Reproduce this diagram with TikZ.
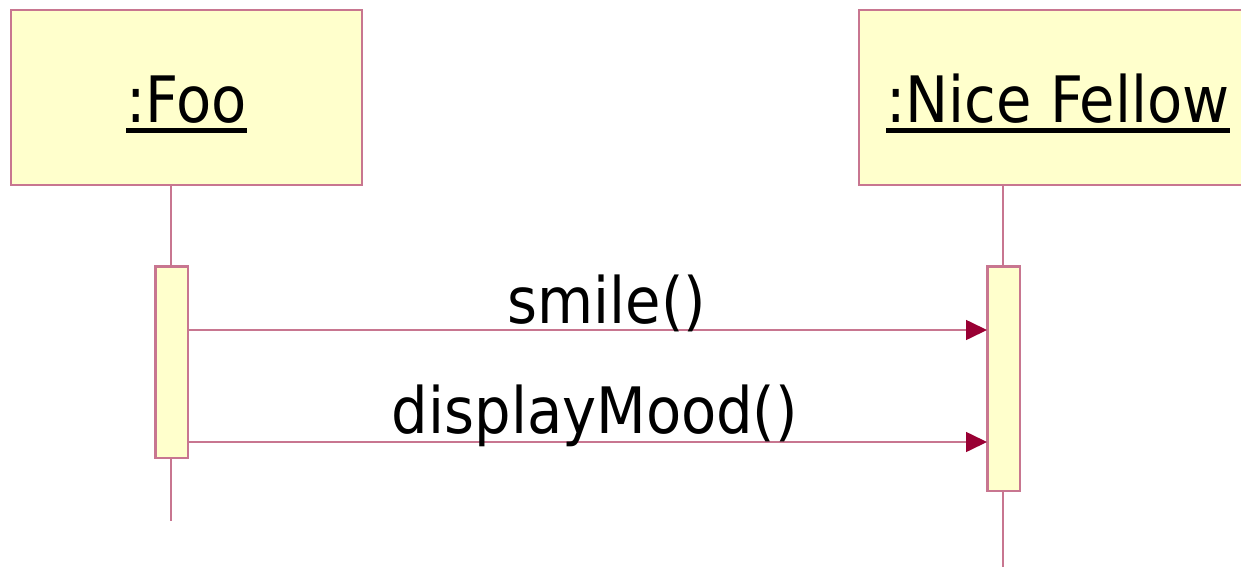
\documentclass[tikz,border=0pt]{standalone}
\usepackage{fontspec}
\setmainfont{DejaVu Sans Condensed}
\usetikzlibrary{arrows.meta}
\definecolor{umlline}{RGB}{200,118,144}
\definecolor{umlfill}{RGB}{255,255,204}
\definecolor{umlhead}{RGB}{153,0,51}
\newcommand{\ulabel}[1]{\setbox0\hbox{#1}\rlap{\rule[-10pt]{\wd0}{4.5pt}}\box0}
\begin{document}
\begin{tikzpicture}[x=1pt,y=-1pt,
  objbox/.style={draw=umlline,fill=umlfill,line width=1.6pt},
  actbox/.style={draw=umlline,fill=umlfill,line width=1.6pt,inner sep=0pt,anchor=north west,minimum width=32pt},
  lifeline/.style={draw=umlline,line width=1.6pt},
  msg/.style={draw=umlline,line width=1.6pt,-{Triangle[length=21pt,width=20pt,fill=umlhead,color=umlhead]}},
  objtext/.style={font=\fontsize{64}{64}\selectfont,inner sep=0pt,anchor=base},
  msgtext/.style={font=\fontsize{64}{64}\selectfont,inner sep=0pt,anchor=base}]
\useasboundingbox (0,0) rectangle (1241,567);
% object boxes
\path[objbox] (11,10) rectangle (362,185);
\path[objbox] (859,10) rectangle (1260,185);
\node[objtext] (foo) at (186.5,123) {\ulabel{:Foo}};
\node[objtext] (nice) at (1058,123) {\ulabel{:Nice Fellow}};
% lifeline anchors
\coordinate (footop) at (171,185);
\coordinate (foobot) at (171,521);
\coordinate (nicetop) at (1003,185);
\coordinate (nicebot) at (1003,567);
\draw[lifeline] (footop) -- (foobot);
\draw[lifeline] (nicetop) -- (nicebot);
% activations
\node[actbox,minimum height=191pt] (fooact) at (155,266) {};
\node[actbox,minimum height=224pt] (niceact) at (987,266) {};
\draw[draw=umlline,line width=1.6pt] (fooact.north west) rectangle (fooact.south east);
\draw[draw=umlline,line width=1.6pt] (niceact.north west) rectangle (niceact.south east);
% messages
\draw[msg] (fooact.east |- 0,330) -- (niceact.west |- 0,330);
\draw[msg] (fooact.east |- 0,442) -- (niceact.west |- 0,442);
\node[msgtext] (m1) at (607,323) {smile()};
\node[msgtext] (m2) at (595,433) {displayMood()};
\end{tikzpicture}
\end{document}
